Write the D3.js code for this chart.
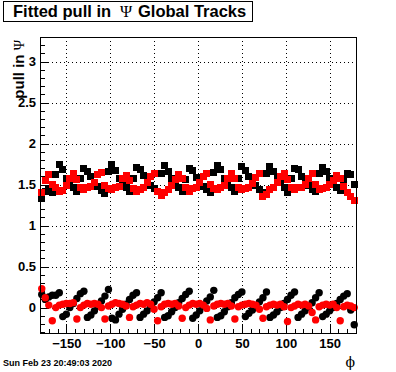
<!DOCTYPE html>
<html lang="en">
<head>
<meta charset="UTF-8">
<title>Fitted pull in Psi Global Tracks</title>
<script src="https://d3js.org/d3.v7.min.js"></script>
<style>
    body { margin: 0; background: #fff; }
    svg { display: block; font-family: "Liberation Sans", Arial, sans-serif; }
    .grid line { stroke: #000; stroke-width: 1; stroke-dasharray: 1,3; shape-rendering: crispEdges; }
    .axis text { font-size: 13px; font-weight: bold; fill: #000; }
    .axis line { stroke: #000; shape-rendering: crispEdges; }
    .axis path { display: none; }
</style>
</head>
<body>
<svg id="chart" width="396" height="372"></svg>
<script>
    // bin centres in phi (deg)
    const phi = [-178,-174,-170,-166,-162,-158,-154,-150,-146,-142,-138,-134,-130,-126,-122,-118,-114,-110,
        -106,-102,-98,-94,-90,-86,-82,-78,-74,-70,-66,-62,-58,-54,-50,-46,-42,-38,-34,-30,-26,-22,-18,-14,
        -10,-6,-2,2,6,10,14,18,22,26,30,34,38,42,46,50,54,58,62,66,70,74,78,82,86,90,94,98,102,106,110,114,
        118,122,126,130,134,138,142,146,150,154,158,162,166,170,174,178];

    // upper band, black squares
    const blackHigh = [1.33,1.42,1.44,1.40,1.62,1.74,1.68,1.58,1.50,1.46,
        1.41,1.57,1.70,1.66,1.60,1.53,1.48,1.43,1.39,1.66,
        1.74,1.67,1.57,1.52,1.46,1.42,1.58,1.71,1.68,1.61,
        1.54,1.49,1.45,1.41,1.64,1.73,1.66,1.58,1.51,1.47,
        1.42,1.56,1.70,1.67,1.59,1.54,1.48,1.44,1.40,1.65,
        1.73,1.68,1.57,1.52,1.47,1.42,1.58,1.72,1.67,1.60,
        1.54,1.49,1.44,1.40,1.64,1.72,1.66,1.58,1.52,1.46,
        1.40,1.57,1.70,1.68,1.60,1.53,1.49,1.44,1.41,1.63,
        1.71,1.66,1.58,1.52,1.47,1.43,1.56,1.64,1.62,1.50];

    // upper band, red squares
    const redHigh = [1.40,1.55,1.62,1.50,1.46,1.42,1.43,1.49,1.58,1.64,
        1.56,1.46,1.44,1.46,1.48,1.52,1.62,1.65,1.49,1.45,
        1.44,1.46,1.48,1.57,1.61,1.55,1.45,1.42,1.44,1.47,
        1.53,1.60,1.63,1.42,1.37,1.40,1.44,1.49,1.56,1.62,
        1.57,1.46,1.42,1.45,1.47,1.52,1.60,1.64,1.50,1.45,
        1.44,1.46,1.49,1.57,1.63,1.58,1.47,1.44,1.45,1.47,
        1.51,1.59,1.64,1.36,1.38,1.44,1.46,1.52,1.60,1.64,
        1.56,1.46,1.44,1.46,1.47,1.50,1.58,1.64,1.50,1.44,
        1.45,1.47,1.50,1.55,1.61,1.58,1.48,1.40,1.35,1.30];

    // lower band, black circles
    const blackLow = [0.16,0.10,0.13,0.15,0.15,0.18,-0.11,-0.08,0.00,0.05,
        0.11,0.17,0.20,-0.12,-0.09,-0.04,0.02,0.08,0.14,0.22,
        -0.13,-0.15,-0.08,-0.02,0.04,0.10,0.15,0.18,-0.12,-0.08,
        -0.04,0.02,0.07,0.12,0.18,-0.12,-0.10,-0.05,0.00,0.06,
        0.11,0.16,0.20,-0.13,-0.09,-0.04,0.02,0.08,0.13,0.21,
        -0.12,-0.10,-0.05,0.01,0.06,0.12,0.16,0.19,-0.11,-0.07,
        -0.03,0.02,0.07,0.12,0.19,-0.12,-0.09,-0.05,0.00,0.05,
        0.10,0.15,0.19,-0.12,-0.08,-0.04,0.01,0.06,0.12,0.18,
        -0.11,-0.08,-0.04,0.00,0.05,0.10,0.14,0.17,-0.03,-0.21];

    // lower band, red circles
    const redLow = [0.23,0.12,0.03,-0.16,0.00,0.03,0.04,0.05,0.05,0.06,
        -0.14,0.00,0.03,0.05,0.04,0.05,0.04,0.00,-0.14,0.02,
        0.04,0.06,0.05,0.04,0.02,-0.12,0.01,0.03,0.05,0.04,
        0.06,0.04,-0.02,-0.16,0.01,0.04,0.05,0.04,0.05,0.02,
        -0.13,0.00,0.03,0.05,0.04,0.05,0.03,-0.01,-0.15,0.02,
        0.04,0.05,0.04,0.05,0.02,-0.14,0.01,0.03,0.04,0.05,
        0.04,0.03,-0.02,-0.13,0.01,0.03,0.04,0.03,0.04,0.01,
        -0.17,0.00,0.02,0.04,0.03,0.04,0.02,-0.06,-0.15,0.01,
        0.03,0.04,0.03,0.04,0.00,-0.16,0.01,0.03,0.02,0.00];

    const xMajor = [-150, -100, -50, 0, 50, 100, 150];
    const yMajor = [0, 0.5, 1, 1.5, 2, 2.5, 3];

    const width = 396;
    const height = 372;
    const frame = { left: 40, right: 356, top: 37, bottom: 333 };

    const svg = d3.select("#chart")
        .attr("width", width)
        .attr("height", height);

    svg.append("rect")
        .attr("width", width)
        .attr("height", height)
        .attr("fill", "#fff");

    const x = d3.scaleLinear().domain([-180, 180]).range([frame.left, frame.right]);
    const y = d3.scaleLinear().domain([-0.31, 3.3]).range([frame.bottom, frame.top]);

    // dotted grid
    const grid = svg.append("g").attr("class", "grid");
    grid.selectAll(".gx")
        .data(xMajor)
        .enter().append("line")
        .attr("x1", d => Math.round(x(d)) + 0.5)
        .attr("x2", d => Math.round(x(d)) + 0.5)
        .attr("y1", frame.top)
        .attr("y2", frame.bottom);
    grid.selectAll(".gy")
        .data(yMajor)
        .enter().append("line")
        .attr("x1", frame.left)
        .attr("x2", frame.right)
        .attr("y1", d => Math.round(y(d)) + 0.5)
        .attr("y2", d => Math.round(y(d)) + 0.5);

    // ticks point into the frame, like ROOT
    svg.append("g")
        .attr("class", "axis")
        .attr("transform", `translate(0,${frame.bottom})`)
        .call(d3.axisBottom(x).tickValues(d3.range(-18, 19).map(v => v * 10))
            .tickSize(-4.5).tickSizeOuter(0).tickFormat(""));
    svg.append("g")
        .attr("class", "axis")
        .attr("transform", `translate(0,${frame.bottom})`)
        .call(d3.axisBottom(x).tickValues(xMajor)
            .tickSize(-9).tickSizeOuter(0).tickPadding(6).tickFormat(d3.format("d")));

    svg.append("g")
        .attr("class", "axis")
        .attr("transform", `translate(${frame.left},0)`)
        .call(d3.axisLeft(y).tickValues(d3.range(-3, 34).map(v => v / 10))
            .tickSize(-4.5).tickSizeOuter(0).tickFormat(""));
    svg.append("g")
        .attr("class", "axis")
        .attr("transform", `translate(${frame.left},0)`)
        .call(d3.axisLeft(y).tickValues(yMajor)
            .tickSize(-9).tickSizeOuter(0).tickPadding(4).tickFormat(d => String(d)));

    // markers
    const series = [
        { values: blackHigh, color: "#000", shape: "square" },
        { values: redHigh, color: "#f00", shape: "square" },
        { values: blackLow, color: "#000", shape: "circle" },
        { values: redLow, color: "#f00", shape: "circle" }
    ];

    const plot = svg.append("g");
    series.forEach(s => {
        const pts = phi.map((p, i) => ({ p: p, v: s.values[i] }));
        if (s.shape === "square") {
            plot.append("g").selectAll("rect")
                .data(pts)
                .enter().append("rect")
                .attr("x", d => Math.round(x(d.p) - 3.5))
                .attr("y", d => Math.round(y(d.v) - 3.5))
                .attr("width", 7)
                .attr("height", 7)
                .attr("fill", s.color)
                .attr("shape-rendering", "crispEdges");
        } else {
            plot.append("g").selectAll("circle")
                .data(pts)
                .enter().append("circle")
                .attr("cx", d => x(d.p))
                .attr("cy", d => y(d.v))
                .attr("r", 3.7)
                .attr("fill", s.color);
        }
    });

    // frame
    svg.append("rect")
        .attr("x", frame.left + 0.5)
        .attr("y", frame.top + 0.5)
        .attr("width", frame.right - frame.left)
        .attr("height", frame.bottom - frame.top)
        .attr("fill", "none")
        .attr("stroke", "#000")
        .attr("shape-rendering", "crispEdges");

    // axis titles
    const yTitle = svg.append("text")
        .attr("transform", `translate(24,${frame.top + 3}) rotate(-90)`)
        .attr("text-anchor", "end")
        .attr("font-size", 15)
        .attr("font-weight", "bold");
    yTitle.append("tspan").text("pull in ");
    yTitle.append("tspan")
        .attr("font-family", "'Liberation Serif', serif")
        .attr("font-weight", "normal")
        .attr("font-size", 14)
        .text("\u03A8");

    svg.append("text")
        .attr("x", frame.right - 1)
        .attr("y", 367)
        .attr("text-anchor", "end")
        .attr("font-size", 14)
        .attr("font-family", "'DejaVu Serif', serif")
        .text("\u03D5");

    // title box
    svg.append("rect")
        .attr("x", 3.5)
        .attr("y", 1.5)
        .attr("width", 249)
        .attr("height", 20)
        .attr("fill", "#fff")
        .attr("stroke", "#000")
        .attr("shape-rendering", "crispEdges");

    const title = svg.append("text")
        .attr("y", 17)
        .attr("font-size", 16.5)
        .attr("font-weight", "bold");
    title.append("tspan").attr("x", 13).text("Fitted pull in");
    title.append("tspan")
        .attr("x", 120)
        .attr("font-family", "'Liberation Serif', serif")
        .attr("font-weight", "normal")
        .text("\u03A8");
    title.append("tspan").attr("x", 138).text("Global Tracks");

    // date stamp
    svg.append("text")
        .attr("x", 3)
        .attr("y", 366)
        .attr("font-size", 9)
        .attr("font-weight", "bold")
        .text("Sun Feb 23 20:49:03 2020");
</script>
</body>
</html>
